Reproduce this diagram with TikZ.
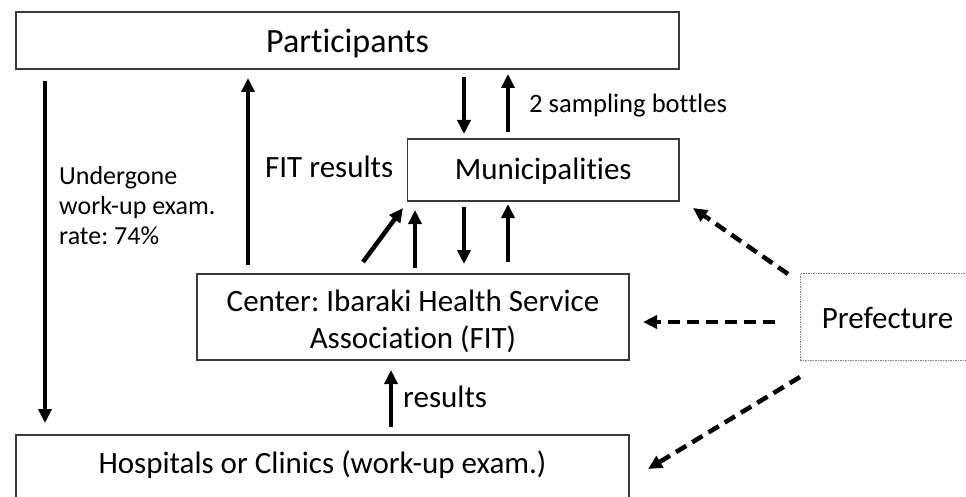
\documentclass[tikz,border=0pt]{standalone}
\usepackage{fontspec}
\setmainfont{Carlito}[Ligatures=NoCommon]
\usetikzlibrary{arrows.meta}
\definecolor{boxgray}{HTML}{3A3A3A}
\frenchspacing
\begin{document}
\begin{tikzpicture}[x=1pt,y=-1pt,
  box/.style={draw=boxgray, line width=1.1pt, inner sep=0pt, outer sep=0pt, font=\fontsize{31}{37}\selectfont},
  arr/.style={-{Triangle[length=14pt,width=13pt]}, line width=4.5pt},
  darr/.style={arr, dash pattern=on 12pt off 7pt},
  lbl/.style={inner sep=0pt, font=\fontsize{31}{37}\selectfont}]
\useasboundingbox (0,0) rectangle (966,497);
\clip (0,0) rectangle (966,497);

% boxes
\node[box, minimum width=663pt, minimum height=57pt, text height=25pt, text depth=0pt,
      font=\fontsize{34}{40}\selectfont] (top) at (347.5,40.5) {Participants};
\node[box, minimum width=271.5pt, minimum height=62pt, text height=22pt, text depth=2pt]
      (muni) at (543.25,170) {Municipalities};
\node[box, minimum width=432pt, minimum height=86pt, align=center]
      (center) at (413,317) {\rule{0pt}{29.4pt}Center: Ibaraki Health Service\\Association (FIT)};
\node[box, draw=gray, line width=0.8pt, dash pattern=on 1.5pt off 1pt,
      minimum width=175pt, minimum height=87pt, text height=23pt, text depth=0pt]
      (pref) at (887.5,316.5) {Prefecture};
\node[box, minimum width=613pt, minimum height=80pt, text height=22pt, text depth=26pt]
      (hosp) at (322.5,475) {Hospitals or Clinics (work-up exam.)};

% labels
\node[lbl, anchor=base west] (fitlbl) at (265,178) {FIT results};
\node[lbl, anchor=base west, font=\fontsize{26.6}{32}\selectfont] (bottles) at (529,113) {2 sampling bottles};
\node[lbl, anchor=base west] (reslbl) at (403,407) {results};
\node[lbl, anchor=north west, align=left, font=\fontsize{26}{30}\selectfont]
      (rate) at (59,166) {Undergone\\work-up exam.\\rate: 74\%};

% solid arrows
\draw[arr] ([xshift=29pt,yshift=-12pt]top.south west) -- ([xshift=29pt,yshift=12pt]hosp.north west);
\draw[arr] ([xshift=51pt,yshift=9pt]center.north west) -- ([xshift=232pt,yshift=-9pt]top.south west);
\draw[arr] ([xshift=56.5pt,yshift=-8pt]muni.north west |- top.south) -- ([xshift=56.5pt,yshift=5pt]muni.north west);
\draw[arr] ([xshift=100.5pt,yshift=7pt]muni.north west) -- ([xshift=100.5pt,yshift=-5pt]muni.north west |- top.south);
\draw[arr] ([xshift=166pt,yshift=12pt]center.north west) -- ([xshift=-4.5pt,yshift=-7pt]muni.south west);
\draw[arr] ([xshift=218pt,yshift=6pt]center.north west) -- ([xshift=7.5pt,yshift=-9pt]muni.south west);
\draw[arr] ([xshift=56.5pt,yshift=-6pt]muni.south west) -- ([xshift=267pt,yshift=10pt]center.north west);
\draw[arr] ([xshift=311pt,yshift=12pt]center.north west) -- ([xshift=100.5pt,yshift=-3pt]muni.south west);
\draw[arr] ([xshift=375pt,yshift=8pt]hosp.north west) -- ([xshift=194pt,yshift=-10pt]center.south west);

% dashed arrows from the prefecture
\draw[darr] ([xshift=-12pt,yshift=-1pt]pref.north west) -- ([xshift=14pt,yshift=-7pt]muni.south east);
\draw[darr] ([xshift=-25pt,yshift=-5.5pt]pref.west) -- ([xshift=14pt,yshift=-5pt]center.east);
\draw[darr] ([xshift=0pt,yshift=-17pt]pref.south west) -- ([xshift=19pt,yshift=6pt]hosp.east);
\end{tikzpicture}
\end{document}
